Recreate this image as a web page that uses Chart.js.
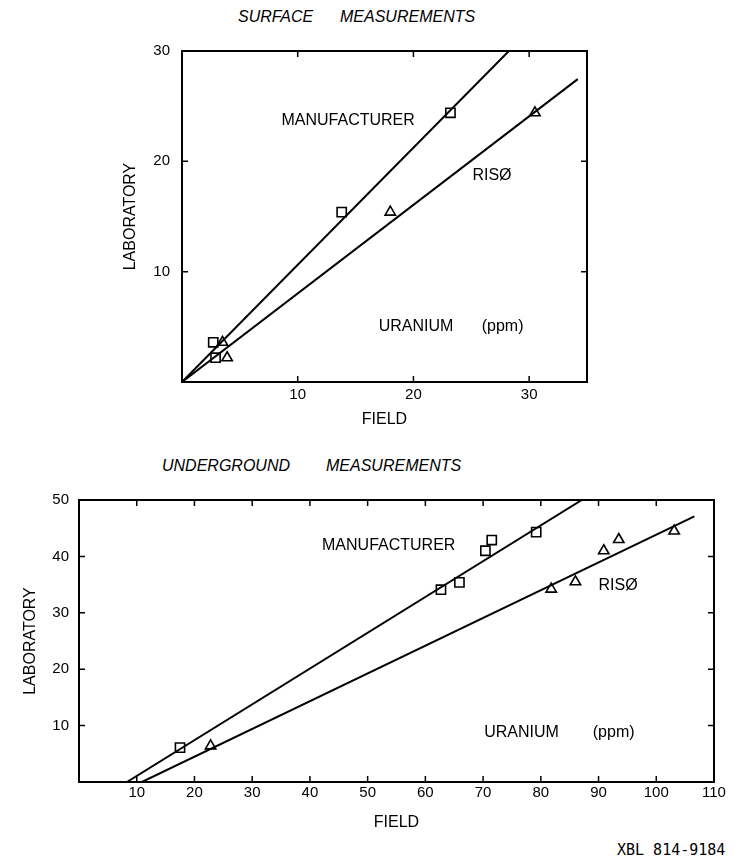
<!DOCTYPE html>
<html>
<head>
<meta charset="utf-8">
<script src="https://cdn.jsdelivr.net/npm/chart.js@4.4.1/dist/chart.umd.min.js"></script>
<style>
  body { margin: 0; background: #fff; width: 740px; height: 866px; position: relative; overflow: hidden;
         font-family: 'Liberation Sans', Arial, sans-serif; color: #000; }
  .caja { position: absolute; left: 0; width: 740px; }
  .titulo { position: absolute; font-style: italic; font-size: 16px; line-height: 1; white-space: nowrap; }
  #xbl { position: absolute; left: 617px; top: 843px; font-family: 'DejaVu Sans Mono', monospace; font-size: 15px; line-height: 1; }
</style>
</head>
<body>
<div class="titulo" style="left:238px;top:9px">SURFACE</div>
<div class="titulo" style="left:340px;top:9px">MEASUREMENTS</div>
<div class="titulo" style="left:162px;top:458px">UNDERGROUND</div>
<div class="titulo" style="left:326px;top:458px">MEASUREMENTS</div>
<div id="xbl">XBL 814-9184</div>

<div class="caja" style="top:30px;height:399px"><canvas id="grafica1"></canvas></div>
<div class="caja" style="top:480px;height:352px"><canvas id="grafica2"></canvas></div>

<script>
// --- superficie (surface) ---
const supFabX = [2.7, 2.9, 13.8, 23.2];
const supFabY = [3.6, 2.2, 15.4, 24.4];
const supRisoX = [3.5, 3.9, 18.0, 30.5];
const supRisoY = [3.6, 2.2, 15.4, 24.4];
const supFabRectaX = [0, 28.25];
const supFabRectaY = [0, 30];
const supRisoRectaX = [0, 34.2];
const supRisoRectaY = [0, 27.45];
const supTicksX = [10, 20, 30];
const supTicksY = [10, 20, 30];

// --- subterraneo (underground) ---
const subFabX = [17.5, 62.7, 65.9, 70.4, 71.5, 79.2];
const subFabY = [6.1, 34.1, 35.4, 41.0, 42.9, 44.3];
const subRisoX = [22.8, 81.8, 86.0, 90.9, 93.5, 103.1];
const subRisoY = [6.4, 34.2, 35.5, 41.0, 43.0, 44.5];
const subFabRectaX = [8.3, 87.1];
const subFabRectaY = [0, 50];
const subRisoRectaX = [10.9, 106.6];
const subRisoRectaY = [0, 47.1];
const subTicksX = [10, 20, 30, 40, 50, 60, 70, 80, 90, 100, 110];
const subTicksY = [10, 20, 30, 40, 50];

const NEGRO = '#000';
Chart.defaults.font.family = "'Liberation Sans', Arial, sans-serif";
Chart.defaults.color = NEGRO;

const pares = (xs, ys) => xs.map((x, i) => ({ x: x, y: ys[i] }));

// textos dentro del grafico, en coordenadas de datos
const notasPlugin = {
  id: 'notas',
  afterDatasetsDraw(chart, args, opts) {
    const { ctx, scales: { x, y } } = chart;
    ctx.save();
    ctx.font = opts.font;
    ctx.fillStyle = NEGRO;
    ctx.textBaseline = 'middle';
    opts.items.forEach(n => ctx.fillText(n.text, x.getPixelForValue(n.x), y.getPixelForValue(n.y)));
    ctx.restore();
  }
};

// marco con marcas hacia adentro en los cuatro lados
const marcoPlugin = {
  id: 'marco',
  afterDraw(chart) {
    const { ctx, chartArea: a, scales: { x, y } } = chart;
    ctx.save();
    ctx.strokeStyle = NEGRO;
    ctx.lineWidth = 2;
    ctx.strokeRect(a.left, a.top, a.right - a.left, a.bottom - a.top);
    ctx.lineWidth = 1.5;
    ctx.beginPath();
    x.ticks.forEach(t => {
      const px = x.getPixelForValue(t.value);
      ctx.moveTo(px, a.bottom); ctx.lineTo(px, a.bottom - 6);
      ctx.moveTo(px, a.top); ctx.lineTo(px, a.top + 6);
    });
    y.ticks.forEach(t => {
      const py = y.getPixelForValue(t.value);
      ctx.moveTo(a.left, py); ctx.lineTo(a.left + 6, py);
      ctx.moveTo(a.right, py); ctx.lineTo(a.right - 6, py);
    });
    ctx.stroke();
    ctx.restore();
  }
};

function conjuntos(fabX, fabY, risoX, risoY, rfX, rfY, rrX, rrY) {
  return [
    { data: pares(rfX, rfY), showLine: true, borderColor: NEGRO, borderWidth: 2, pointRadius: 0 },
    { data: pares(rrX, rrY), showLine: true, borderColor: NEGRO, borderWidth: 2, pointRadius: 0 },
    { data: pares(fabX, fabY), pointStyle: 'rect', pointRadius: 6.5, borderColor: NEGRO,
      backgroundColor: 'rgba(0,0,0,0)', pointBorderWidth: 1.6 },
    { data: pares(risoX, risoY), pointStyle: 'triangle', pointRadius: 6, borderColor: NEGRO,
      backgroundColor: 'rgba(0,0,0,0)', pointBorderWidth: 1.6 }
  ];
}

function opciones(cfg) {
  return {
    responsive: true,
    maintainAspectRatio: false,
    animation: false,
    layout: { padding: cfg.padding },
    plugins: {
      legend: { display: false },
      tooltip: { enabled: false },
      notas: { font: '16px "Liberation Sans", Arial, sans-serif', items: cfg.notas }
    },
    scales: {
      x: {
        type: 'linear', min: cfg.xMin, max: cfg.xMax,
        grid: { display: false, drawTicks: false },
        border: { display: false },
        ticks: { font: { size: cfg.tickSize }, padding: cfg.xPad, maxRotation: 0, autoSkip: false },
        afterBuildTicks: s => { s.ticks = cfg.ticksX.map(v => ({ value: v })); },
        afterFit: s => { s.height = cfg.xAlto; },
        title: { display: true, text: 'FIELD', font: { size: 16 }, padding: 0 }
      },
      y: {
        type: 'linear', min: 0, max: cfg.yMax,
        grid: { display: false, drawTicks: false },
        border: { display: false },
        ticks: { font: { size: cfg.tickSize }, padding: cfg.yPad, autoSkip: false },
        afterBuildTicks: s => { s.ticks = cfg.ticksY.map(v => ({ value: v })); },
        afterFit: s => { s.width = cfg.yAncho; },
        title: { display: true, text: 'LABORATORY', font: { size: 16 }, padding: 0 }
      }
    }
  };
}

new Chart(document.getElementById('grafica1'), {
  type: 'scatter',
  data: { datasets: conjuntos(supFabX, supFabY, supRisoX, supRisoY, supFabRectaX, supFabRectaY, supRisoRectaX, supRisoRectaY) },
  options: opciones({
    padding: { left: 121, top: 14, right: 153, bottom: 0 },
    xMin: 0, xMax: 35, yMax: 30,
    ticksX: supTicksX, ticksY: supTicksY,
    tickSize: 15, xPad: 4, yPad: 12, xAlto: 47, yAncho: 61,
    notas: [
      { text: 'MANUFACTURER', x: 8.6, y: 23.7 },
      { text: 'RISØ', x: 25.1, y: 18.7 },
      { text: 'URANIUM', x: 17.0, y: 5.0 },
      { text: '(ppm)', x: 25.9, y: 5.0 }
    ]
  }),
  plugins: [notasPlugin, marcoPlugin]
});

new Chart(document.getElementById('grafica2'), {
  type: 'scatter',
  data: { datasets: conjuntos(subFabX, subFabY, subRisoX, subRisoY, subFabRectaX, subFabRectaY, subRisoRectaX, subRisoRectaY) },
  options: opciones({
    padding: { left: 21, top: 20, right: 26, bottom: 0 },
    xMin: 0, xMax: 110, yMax: 50,
    ticksX: subTicksX, ticksY: subTicksY,
    tickSize: 15, xPad: 2, yPad: 10, xAlto: 50, yAncho: 58,
    notas: [
      { text: 'MANUFACTURER', x: 42.1, y: 42.0 },
      { text: 'RISØ', x: 90.0, y: 34.9 },
      { text: 'URANIUM', x: 70.2, y: 8.7 },
      { text: '(ppm)', x: 89.0, y: 8.7 }
    ]
  }),
  plugins: [notasPlugin, marcoPlugin]
});
</script>
</body>
</html>
